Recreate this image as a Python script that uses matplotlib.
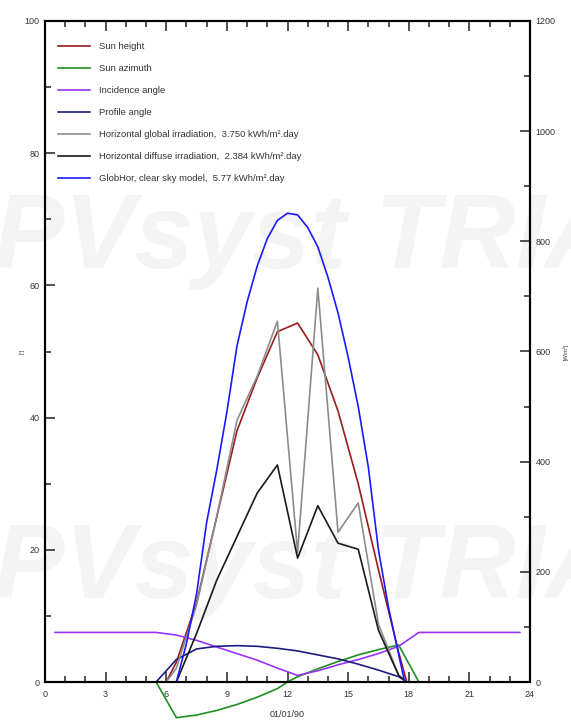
import matplotlib
matplotlib.use('Agg')
import matplotlib.pyplot as plt
from matplotlib.ticker import MultipleLocator

plt.rcParams['font.family'] = ['Liberation Sans', 'DejaVu Sans']

# hourly values (left axis, degrees)
sun_h_t = [6.0, 6.5, 7.5, 8.5, 9.5, 10.5, 11.5, 12.5, 13.5, 14.5, 15.5, 16.5, 17.5, 17.9]
sun_height = [0, 3, 12, 25, 38, 46, 53, 54.3, 49.5, 41, 30, 17, 4.5, 0]

azim_t = [5.5, 6.5, 7.5, 8.5, 9.5, 10.5, 11.5, 12.0, 12.5, 13.5, 14.5, 15.5, 16.5, 17.5, 18.5]
sun_azimuth = [0, -5.4, -5.0, -4.3, -3.4, -2.3, -1.0, 0, 0.8, 2.0, 3.1, 4.1, 4.9, 5.6, 0]

inc_t = [0.5, 1.5, 2.5, 3.5, 4.5, 5.5, 6.5, 7.5, 8.5, 9.5, 10.5, 11.5, 12.5, 13.5,
         14.5, 15.5, 16.5, 17.5, 18.5, 19.5, 20.5, 21.5, 22.5, 23.5]
incidence = [7.5, 7.5, 7.5, 7.5, 7.5, 7.5, 7.1, 6.3, 5.3, 4.3, 3.3, 2.1, 1.0, 1.7,
             2.6, 3.4, 4.3, 5.4, 7.5, 7.5, 7.5, 7.5, 7.5, 7.5]

prof_t = [5.5, 6.5, 7.5, 8.5, 9.5, 10.5, 11.5, 12.5, 13.5, 14.5, 15.5, 16.5, 17.5, 17.9]
profile = [0, 3.4, 5.0, 5.4, 5.5, 5.4, 5.1, 4.7, 4.1, 3.5, 2.7, 1.8, 0.8, 0]

# irradiances (right axis, W/m2)
irr_t = [6.0, 6.5, 7.5, 8.5, 9.5, 10.5, 11.5, 12.5, 13.5, 14.5, 15.5, 16.5, 17.5, 17.9]
glob_hor = [0, 25, 140, 300, 475, 555, 655, 235, 715, 272, 325, 105, 12, 0]
diff_hor = [0, 0, 88, 185, 264, 343, 394, 225, 320, 252, 241, 94, 12, 0]

clr_t = [6.5, 7.0, 7.5, 8.0, 8.5, 9.0, 9.5, 10.0, 10.5, 11.0, 11.5, 12.0, 12.5,
         13.0, 13.5, 14.0, 14.5, 15.0, 15.5, 16.0, 16.5, 17.0, 17.5, 17.8]
clear_sky = [0, 70, 160, 290, 385, 490, 610, 690, 755, 805, 838, 851, 848,
             825, 790, 735, 670, 590, 500, 390, 240, 135, 50, 0]

labels = ['Sun height', 'Sun azimuth', 'Incidence angle', 'Profile angle',
          'Horizontal global irradiation,  3.750 kWh/m\u00b2.day',
          'Horizontal diffuse irradiation,  2.384 kWh/m\u00b2.day',
          'GlobHor, clear sky model,  5.77 kWh/m\u00b2.day']
colors = ['#9b1c1c', '#1f8f1f', '#9933ff', '#1c1c80', '#8c8c8c', '#1a1a1a', '#1a1aff']

fig = plt.figure(figsize=(5.71, 7.25), dpi=100)

# watermark, drawn behind the axes
for yy in (0.63, 0.175):
    fig.text(-0.01, yy, 'PVsyst TRIAL', fontsize=76, fontweight='bold', style='italic',
             color='#f4f4f4', zorder=-1)

ax = fig.add_axes([45 / 571, 43 / 725, (530 - 45) / 571, (682 - 21) / 725])
ax.patch.set_alpha(0)
ax2 = ax.twinx()
ax2.patch.set_alpha(0)

lw = 1.2
h = []
h += ax.plot(sun_h_t, sun_height, color=colors[0], lw=lw)
h += ax.plot(azim_t, sun_azimuth, color=colors[1], lw=lw, clip_on=False)
h += ax.plot(inc_t, incidence, color=colors[2], lw=lw)
h += ax.plot(prof_t, profile, color=colors[3], lw=lw)
h += ax2.plot(irr_t, glob_hor, color=colors[4], lw=lw)
h += ax2.plot(irr_t, diff_hor, color=colors[5], lw=lw)
h += ax2.plot(clr_t, clear_sky, color=colors[6], lw=lw)

ax.set_xlim(0, 24)
ax.set_ylim(0, 100)
ax2.set_ylim(0, 1200)
ax.xaxis.set_major_locator(MultipleLocator(3))
ax.xaxis.set_minor_locator(MultipleLocator(1))
ax.yaxis.set_major_locator(MultipleLocator(20))
ax.yaxis.set_minor_locator(MultipleLocator(10))
ax2.yaxis.set_major_locator(MultipleLocator(200))
ax2.yaxis.set_minor_locator(MultipleLocator(100))

for a in (ax, ax2):
    a.tick_params(which='both', direction='in', labelsize=6.5, colors='#333333',
                  width=1.2, pad=4)
    a.tick_params(which='major', length=7)
    a.tick_params(which='minor', length=4)
    for s in a.spines.values():
        s.set_linewidth(1.5)
ax.tick_params(axis='x', which='both', top=True, pad=6)
ax.tick_params(axis='y', which='both', right=False)

ax.set_xlabel('01/01/90', fontsize=6.5, color='#333333', labelpad=8)
ax.set_ylabel('[\u00b0]', fontsize=4, color='#333333', labelpad=0)
ax2.set_ylabel('[W/m\u00b2]', fontsize=4, color='#333333', labelpad=5)

leg = ax2.legend(h, labels, loc='upper left', bbox_to_anchor=(0.01, 0.981),
                 frameon=False, fontsize=6.8, handlelength=3.3, handletextpad=1.0,
                 labelspacing=1.38)
for t in leg.get_texts():
    t.set_color('#333333')

fig.savefig('out.png', dpi=100)
